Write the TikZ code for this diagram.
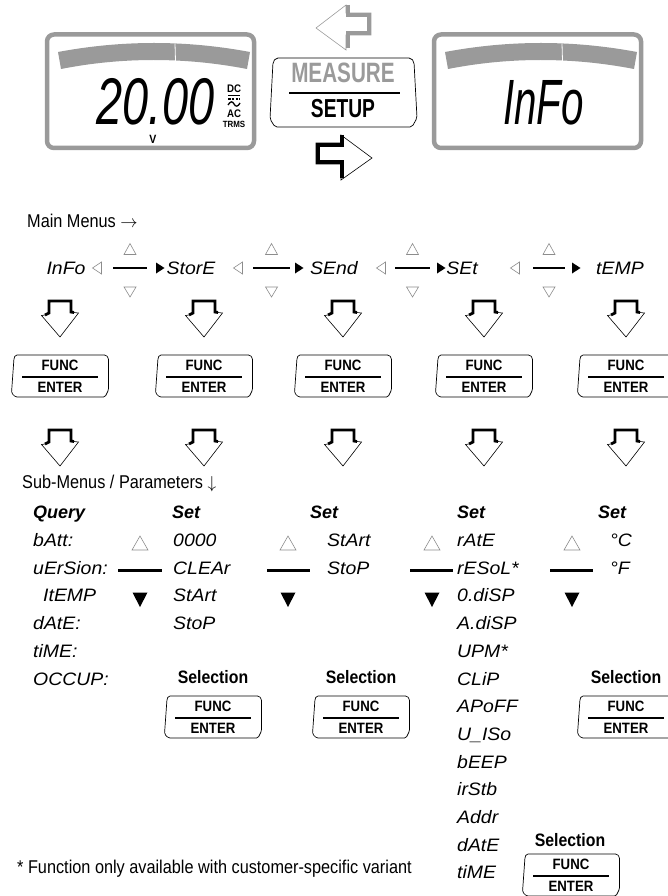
\documentclass[tikz,border=0pt]{standalone}
\usepackage{fontspec}
\setmainfont{Liberation Sans}
\newfontfamily\cnd[FakeStretch=0.88]{Liberation Sans}
\newfontfamily\seg[FakeStretch=1.08]{Liberation Sans}
\definecolor{lcdgray}{HTML}{9A9A9A}
\definecolor{trigray}{HTML}{8C8C8C}
\tikzset{
  segtxt/.style={font=\seg\itshape\fontsize{18}{18}\selectfont, inner sep=0pt, anchor=base west},
  segmid/.style={font=\seg\itshape\fontsize{18}{18}\selectfont, inner sep=0pt, anchor=base},
  hdr/.style={font=\bfseries\itshape\fontsize{18}{18}\selectfont, inner sep=0pt, anchor=base west},
  lbl/.style={font=\cnd\fontsize{18.5}{18.5}\selectfont, inner sep=0pt, anchor=base west},
  sel/.style={font=\cnd\bfseries\fontsize{18}{18}\selectfont, inner sep=0pt, anchor=base},
  btntxt/.style={font=\cnd\bfseries\fontsize{15}{15}\selectfont, inner sep=0pt},
  bar/.style={line width=2.7pt},
  thinline/.style={line width=0.7pt},
  outtri/.style={draw=trigray, line width=0.6pt, line join=miter},
  fbtn/.pic={
    \draw[thinline, rounded corners=1.5pt] (-44.5,-21) -- (46,-21) -- (48.5,-18) -- (48.5,14) -- (45,21) -- (-44.5,21) -- (-48.5,17) -- (-46,-18) -- cycle;
    \node[btntxt] (-func) at (0,-10.5) {FUNC};
    \node[btntxt] (-enter) at (0,11.5) {ENTER};
    \draw[bar] (-38,1) -- (38,1);
  },
  dnarrow/.pic={
    \draw[line width=2.8pt, line join=miter] (-15,14) -- (-11,12) -- (-11,0) -- (11,0) -- (11,11) -- (14,11.5);
    \draw[line width=0.6pt] (-15,14) -- (-18.5,14.5) -- (0,36) -- (18.5,12) -- (14,11.5);
  },
  lcdframe/.pic={
    \draw[lcdgray, line width=4.5pt, rounded corners=7pt] (2,1.5) rectangle (209,115);
    \fill[lcdgray] (13,19) .. controls (77,7) and (141,7) .. (205,19) -- (202,36) .. controls (140,24) and (77,24) .. (16,36) -- cycle;
    \draw[white, line width=0.8pt] (130,10.5) -- (130.5,28);
  }
}
\begin{document}
\begin{tikzpicture}[x=1pt,y=-1pt]
\useasboundingbox (0,0) rectangle (668,896);
\clip (0,0) rectangle (668,896);

% ---------- top: displays and MEASURE/SETUP key ----------
\pic at (45,33) {lcdframe};
\pic at (432,33) {lcdframe};
\node[inner sep=0pt] (lcdval) at (155.5,101.5) {\scalebox{0.71}[1]{\itshape\fontsize{66}{66}\selectfont 20.00}};
\node[inner sep=0pt, font=\cnd\bfseries\fontsize{11}{11}\selectfont] (dc) at (234,89) {DC};
\draw[line width=1.4pt] (228,95.5) -- (240,95.5);
\draw[line width=1.3pt, dash pattern=on 2.5pt off 1.3pt] (228,99) -- (240,99);
\draw[line width=1.3pt] (228,105) .. controls (230.5,101) and (232.5,101) .. (234,104) .. controls (235.5,107) and (238,107) .. (240,103);
\node[inner sep=0pt, font=\cnd\bfseries\fontsize{11}{11}\selectfont] (ac) at (234,114) {AC};
\node[inner sep=0pt, font=\cnd\bfseries\fontsize{9}{9}\selectfont] (trms) at (234,124.5) {TRMS};
\node[inner sep=0pt, font=\cnd\bfseries\fontsize{12}{12}\selectfont] (volt) at (153,139.5) {V};
\node[inner sep=0pt] (lcdinfo) at (543.5,102.5) {\scalebox{0.63}[1]{\itshape\fontsize{64}{64}\selectfont InFo}};

\draw[thinline, rounded corners=2pt] (276,58) -- (411,58) -- (414,62) -- (417,118) -- (412,127) -- (275,127) -- (270,119) -- (273,62) -- cycle;
\node[inner sep=0pt, text=lcdgray] (measure) at (343,73) {\scalebox{0.84}[1]{\cnd\bfseries\fontsize{28}{28}\selectfont MEASURE}};
\draw[bar] (289,93) -- (400,93);
\node[inner sep=0pt] (setup) at (343,108.5) {\scalebox{0.84}[1]{\cnd\bfseries\fontsize{26}{26}\selectfont SETUP}};

% gray arrow pointing left (above key)
\draw[lcdgray, line width=0.6pt] (316,28) -- (346,5) -- (346,13) -- (371,13) -- (371,35) -- (346,35) -- (346,50) -- cycle;
\draw[lcdgray, line width=4pt, line join=miter] (348,5) -- (348,15) -- (369,15) -- (369,33) -- (348,33) -- (348,48);
% black arrow pointing right (below key)
\draw[line width=0.6pt] (372,158) -- (341,135) -- (341,143) -- (316,143) -- (316,164) -- (341,164) -- (341,180) -- cycle;
\draw[line width=4pt, line join=miter] (342,135) -- (342,145) -- (318,145) -- (318,162) -- (342,162) -- (342,178);

% ---------- main menus ----------
\node[lbl] (mainmenus) at (27,227.5) {Main Menus $\rightarrow$};

\node[segmid] (info) at (66,274.5) {InFo};
\node[segmid] (store) at (191,274.5) {StorE};
\node[segmid] (send) at (334,274.5) {SEnd};
\node[segmid] (set) at (462,274.5) {SEt};
\node[segmid] (temp) at (620,274.5) {tEMP};

\foreach \lx/\rx/\lt/\rt in {113/147/97/160, 253/290/238/299, 395/430/381/441, 533/565/515/576}{
  \draw[bar] (\lx,268) -- (\rx,268);
  \draw[outtri] (\lt+4.5,262) -- (\lt+4.5,274) -- (\lt-4.5,268) -- cycle;
  \fill (\rt-4,262.5) -- (\rt+4.5,268) -- (\rt-4,273.5) -- cycle;
  \draw[outtri] ({(\lx+\rx)/2-6},254.5) -- ({(\lx+\rx)/2+6},254.5) -- ({(\lx+\rx)/2},243.5) -- cycle;
  \draw[outtri] ({(\lx+\rx)/2-6},287) -- ({(\lx+\rx)/2+6},287) -- ({(\lx+\rx)/2},297) -- cycle;
}

\foreach \c [count=\i] in {60,204,343,484,626}{
  \pic at (\c,301) {dnarrow};
  \pic (m\i) at (\c,376) {fbtn};
  \pic at (\c,430) {dnarrow};
}

% ---------- sub-menus ----------
\node[lbl] (submenus) at (22,488.5) {Sub-Menus / Parameters $\downarrow$};

\node[hdr] (query) at (33,518.5) {Query};
\node[hdr] (set2) at (172,518.5) {Set};
\node[hdr] (set3) at (310,518.5) {Set};
\node[hdr] (set4) at (457,518.5) {Set};
\node[hdr] (set5) at (598,518.5) {Set};

\foreach \t [count=\k from 0] in {bAtt:, uErSion:, {\hspace{10pt}ItEMP}, dAtE:, tiME:, OCCUP:}{
  \node[segtxt] (qa\k) at (33,{540+27.7*\k+6.5}) {\t};
}
\foreach \t [count=\k from 0] in {0000, CLEAr, StArt, StoP}{
  \node[segtxt] (sb\k) at (173,{540+27.7*\k+6.5}) {\t};
}
\foreach \t [count=\k from 0] in {StArt, StoP}{
  \node[segtxt] (sc\k) at (327,{540+27.7*\k+6.5}) {\t};
}
\foreach \t [count=\k from 0] in {rAtE, rESoL*, 0.diSP, A.diSP, UPM*, CLiP, APoFF, U\_ISo, bEEP, irStb, Addr, dAtE, tiME}{
  \node[segtxt] (sd\k) at (457,{540+27.7*\k+6.5}) {\t};
}
\foreach \t [count=\k from 0] in {°C, °F}{
  \node[segtxt] (se\k) at (610,{540+27.7*\k+6.5}) {\t};
}

\foreach \ax/\lx/\rx in {140/118/162, 288/267/310, 432/410/453, 572/550/593}{
  \draw[outtri] (\ax-8,550) -- (\ax+8,550) -- (\ax,536) -- cycle;
  \draw[bar] (\lx,570.5) -- (\rx,570.5);
  \fill (\ax-7.5,592.5) -- (\ax+7.5,592.5) -- (\ax,607) -- cycle;
}

\node[sel] (selb) at (213,683.5) {Selection};
\node[sel] (selc) at (361,683.5) {Selection};
\node[sel] (sele) at (626,683.5) {Selection};
\node[sel] (seld) at (570,846.5) {Selection};
\pic (sbb) at (213,717) {fbtn};
\pic (sbc) at (361,717) {fbtn};
\pic (sbe) at (626,717) {fbtn};
\pic (sbd) at (571,875) {fbtn};

\node[lbl] (footnote) at (17,873) {* Function only available with customer-specific variant};
\end{tikzpicture}
\end{document}
